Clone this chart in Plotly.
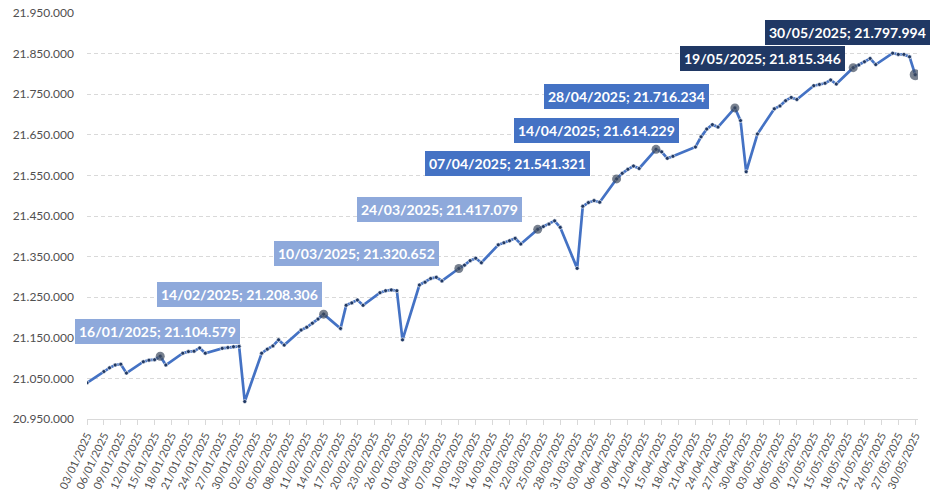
import plotly.graph_objects as go
import pandas as pd

dates = [
    "2025-01-03", "2025-01-06", "2025-01-07", "2025-01-08", "2025-01-09", "2025-01-10",
    "2025-01-13", "2025-01-14", "2025-01-15", "2025-01-16", "2025-01-17",
    "2025-01-20", "2025-01-21", "2025-01-22", "2025-01-23", "2025-01-24",
    "2025-01-27", "2025-01-28", "2025-01-29", "2025-01-30", "2025-01-31",
    "2025-02-03", "2025-02-04", "2025-02-05", "2025-02-06", "2025-02-07",
    "2025-02-10", "2025-02-11", "2025-02-12", "2025-02-13", "2025-02-14",
    "2025-02-17", "2025-02-18", "2025-02-19", "2025-02-20", "2025-02-21",
    "2025-02-24", "2025-02-25", "2025-02-26", "2025-02-27", "2025-02-28",
    "2025-03-03", "2025-03-04", "2025-03-05", "2025-03-06", "2025-03-07",
    "2025-03-10", "2025-03-11", "2025-03-12", "2025-03-13", "2025-03-14",
    "2025-03-17", "2025-03-18", "2025-03-19", "2025-03-20", "2025-03-21",
    "2025-03-24", "2025-03-25", "2025-03-26", "2025-03-27", "2025-03-28",
    "2025-03-31", "2025-04-01", "2025-04-02", "2025-04-03", "2025-04-04",
    "2025-04-07", "2025-04-08", "2025-04-09", "2025-04-10", "2025-04-11",
    "2025-04-14", "2025-04-15", "2025-04-16", "2025-04-17",
    "2025-04-21", "2025-04-22", "2025-04-23", "2025-04-24", "2025-04-25",
    "2025-04-28", "2025-04-29", "2025-04-30", "2025-05-02",
    "2025-05-05", "2025-05-06", "2025-05-07", "2025-05-08", "2025-05-09",
    "2025-05-12", "2025-05-13", "2025-05-14", "2025-05-15", "2025-05-16",
    "2025-05-19", "2025-05-20", "2025-05-21", "2025-05-22", "2025-05-23",
    "2025-05-26", "2025-05-27", "2025-05-28", "2025-05-29", "2025-05-30",
]

values = [
    21039000, 21067000, 21076000, 21083000, 21085000, 21063000,
    21091000, 21095000, 21096000, 21104579, 21083000,
    21112000, 21116000, 21117000, 21125000, 21112000,
    21124000, 21126000, 21128000, 21129000, 20993000,
    21112000, 21122000, 21130000, 21145000, 21132000,
    21169000, 21176000, 21186000, 21196000, 21208306,
    21173000, 21230000, 21236000, 21243000, 21230000,
    21261000, 21266000, 21268000, 21266000, 21145000,
    21280000, 21287000, 21296000, 21299000, 21290000,
    21320652, 21329000, 21340000, 21346000, 21335000,
    21379000, 21384000, 21389000, 21395000, 21381000,
    21417079, 21424000, 21430000, 21438000, 21422000,
    21321000, 21474000, 21483000, 21488000, 21484000,
    21541321, 21555000, 21565000, 21573000, 21567000,
    21614229, 21608000, 21592000, 21597000,
    21620000, 21645000, 21664000, 21675000, 21669000,
    21716234, 21685000, 21559000, 21652000,
    21714000, 21721000, 21734000, 21742000, 21737000,
    21771000, 21774000, 21777000, 21785000, 21775000,
    21815346, 21822000, 21830000, 21838000, 21823000,
    21851000, 21848000, 21848000, 21842000, 21797994,
]

highlight_dates = [
    "2025-01-16", "2025-02-14", "2025-03-10", "2025-03-24", "2025-04-07",
    "2025-04-14", "2025-04-28", "2025-05-19", "2025-05-30",
]

# styling of the callout labels (colour, pixel offset from point)
label_colors = ["#8EA9DB", "#8EA9DB", "#8EA9DB", "#8EA9DB", "#4472C4",
                "#4472C4", "#4472C4", "#203864", "#203864"]
label_xshift = [-3, -84, -102, -98, -109, -60, -108, -91, -68]
label_yshift = [25, 20, 15, 20, 15, 19, 11, 9, 42]
marker_sizes = [9, 9, 9, 9, 9, 9, 9, 9, 11]

value_by_date = dict(zip(dates, values))
highlight_values = [value_by_date[d] for d in highlight_dates]

tick_dates = pd.date_range("2025-01-03", "2025-05-30", freq="3D")

fig = go.Figure()
fig.add_trace(go.Scatter(
    x=dates, y=values, mode="lines+markers",
    line=dict(color="#4472C4", width=2.7),
    marker=dict(size=4, color="#1F3864", line=dict(color="white", width=0.6)),
    hoverinfo="x+y",
))
fig.add_trace(go.Scatter(
    x=highlight_dates, y=highlight_values, mode="markers",
    marker=dict(size=marker_sizes, color="#3E4C60", line=dict(width=0)),
))

def fmt(v):
    return f"{v:,}".replace(",", ".")

for d, v, c, xs, ys in zip(highlight_dates, highlight_values, label_colors,
                           label_xshift, label_yshift):
    ds = pd.Timestamp(d).strftime("%d/%m/%Y")
    fig.add_annotation(
        x=d, y=v, xref="x", yref="y", showarrow=False,
        text=f"<b>{ds}; {fmt(v)}</b>",
        font=dict(family="Lato", size=14, color="white"),
        bgcolor=c, bordercolor=c, borderwidth=1, borderpad=3,
        xshift=xs, yshift=ys,
    )

fig.update_layout(
    width=930, height=493,
    margin=dict(l=87, r=12, t=13, b=74, autoexpand=False),
    plot_bgcolor="white", paper_bgcolor="white",
    showlegend=False,
    separators=",.",
    font=dict(family="Lato", color="#595959"),
)
fig.update_xaxes(
    type="date",
    range=["2025-01-03", "2025-05-30 12:00"],
    tickvals=list(tick_dates),
    tickformat="%d/%m/%Y",
    tickangle=-65,
    tickfont=dict(family="Lato", size=11, color="#505050"),
    ticks="outside", ticklen=5, tickcolor="#D9D9D9",
    showline=True, linecolor="#D9D9D9", linewidth=1,
    showgrid=False, zeroline=False,
)
fig.update_yaxes(
    range=[20950000, 21950000],
    tick0=20950000, dtick=100000,
    tickformat=",d",
    tickfont=dict(family="Lato", size=12, color="#505050"),
    showgrid=True, gridcolor="#D9D9D9", griddash="4px,3px", gridwidth=1,
    zeroline=False, showline=False, ticks="",
    ticklabelstandoff=12,
)

fig.write_html(
    "out.html",
    config={"displayModeBar": False},
    post_script="document.body.style.margin='0';document.body.style.overflow='hidden';",
)
